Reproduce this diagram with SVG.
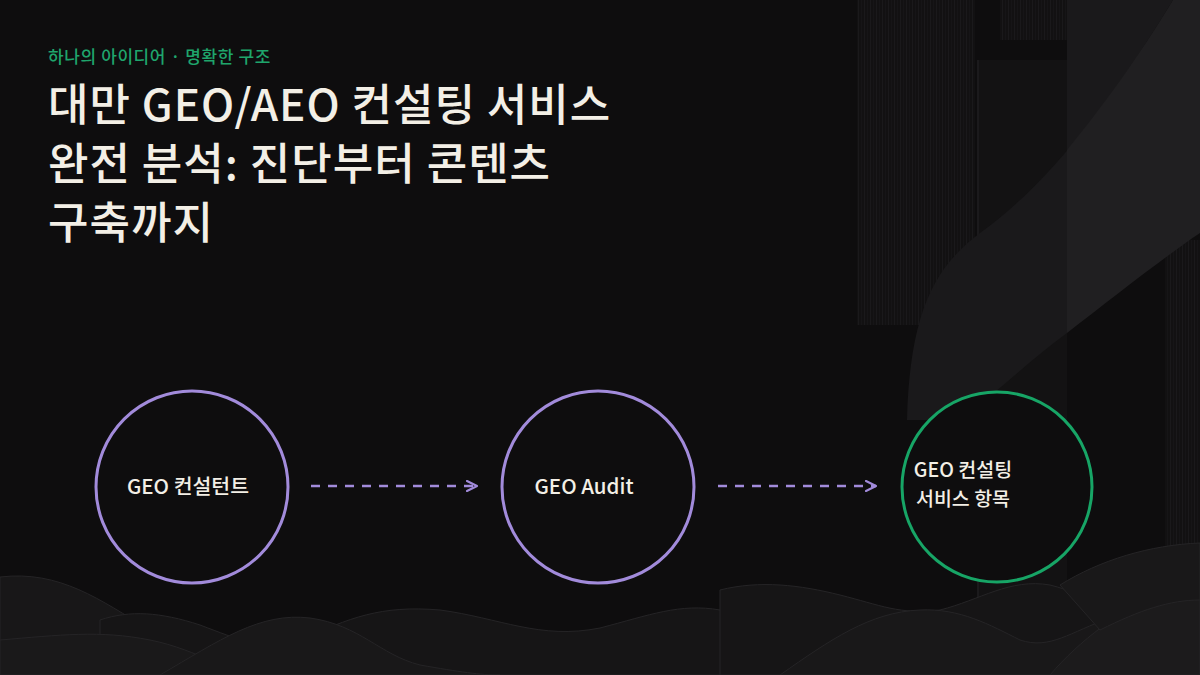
<svg xmlns="http://www.w3.org/2000/svg" width="1200" height="675" viewBox="0 0 1200 675">
<defs>
<style>
.title{font-family:"Noto Sans CJK KR","Noto Sans",sans-serif;font-weight:500;font-size:44px;letter-spacing:1px;fill:#f3efe6}
.kicker{font-family:"Noto Sans CJK KR","Noto Sans",sans-serif;font-weight:500;font-size:17px;fill:#1fa56c;letter-spacing:0.6px}
.lbl{font-family:"Noto Sans CJK KR","Noto Sans",sans-serif;font-weight:500;font-size:20.5px;fill:#f3efe6}
.lbl2{font-family:"Noto Sans CJK KR","Noto Sans",sans-serif;font-weight:500;font-size:19.5px;fill:#f3efe6}
.ring{fill:#0e0d0e;stroke-width:3}
.p{stroke:#a28bdb}
.g{stroke:#17a566}
.edge{stroke:#a28bdb;stroke-width:2.5;stroke-dasharray:9 8;fill:none}
.hill{stroke:#252426;stroke-width:1}
</style>
<marker id="ah" viewBox="0 0 12 12" refX="11" refY="6" markerWidth="12" markerHeight="12" markerUnits="userSpaceOnUse" orient="auto">
<path d="M1 1 L11 6 L1 11" fill="none" stroke="#a28bdb" stroke-width="2.2" stroke-linecap="round" stroke-linejoin="round"/>
</marker>
<pattern id="stripes" width="6" height="10" patternUnits="userSpaceOnUse">
<rect width="6" height="10" fill="#121112"/>
<rect x="0" width="1" height="10" fill="#1a191b"/>
<rect x="3" width="1" height="10" fill="#161517"/>
</pattern>
</defs>
<rect width="1200" height="675" fill="#0e0d0e"/>
<g id="decor">
<rect x="857" y="0" width="118" height="325" fill="url(#stripes)"/>
<rect x="1000" y="0" width="67" height="40" fill="url(#stripes)"/>
<rect x="977" y="60" width="90" height="615" fill="#131213"/>
<rect x="977" y="60" width="2" height="615" fill="#1b1a1c"/>
<rect x="1165" y="240" width="35" height="435" fill="url(#stripes)"/>
<path d="M1173 0 C1100 120 1040 190 980 233 C930 270 910 320 907 420 L960 420 C1000 390 1030 360 1067 333 L1067 0 Z" fill="#1a191b"/>
<path d="M1200 0 L1173 0 C1140 55 1100 110 1067 150 L1067 333 C1110 300 1160 260 1200 233 Z" fill="#201f21"/>
<path class="hill" d="M0 577 C60 570 100 600 150 630 C200 660 250 660 300 645 L300 675 L0 675 Z" fill="#181718"/>
<path class="hill" d="M100 620 C130 610 160 612 200 625 C240 640 260 650 300 640 C350 618 380 605 440 610 C500 618 540 640 600 628 C650 615 680 603 720 610 C760 618 790 630 820 620 L820 675 L100 675 Z" fill="#161516"/>
<path class="hill" d="M0 640 C60 635 100 630 150 640 C200 650 230 675 260 675 L0 675 Z" fill="#1a191a"/>
<path class="hill" d="M160 675 C220 640 260 612 310 618 C360 625 380 655 420 665 C460 672 480 675 500 675 Z" fill="#191819"/>
<path class="hill" d="M720 590 C760 580 800 585 840 595 C880 605 900 615 940 610 C980 600 1010 578 1050 585 C1090 595 1110 615 1150 610 C1170 605 1190 590 1200 585 L1200 675 L720 675 Z" fill="#161516"/>
<path class="hill" d="M780 675 C830 640 870 612 920 610 C960 608 990 625 1020 640 C1050 650 1070 632 1110 618 C1150 605 1180 612 1200 620 L1200 675 Z" fill="#191819"/>
<path class="hill" d="M1050 675 C1080 640 1120 610 1160 595 C1180 588 1190 585 1200 585 L1200 675 Z" fill="#1c1b1c"/>
<path class="hill" d="M1060 585 C1100 560 1150 545 1200 543 L1200 600 C1170 600 1140 610 1100 630 Z" fill="#191819"/>
</g>
<g id="header">
<text class="kicker" x="48" y="63">하나의 아이디어 · 명확한 구조</text>
<text class="title" x="48" y="121">대만 GEO/AEO 컨설팅 서비스</text>
<text class="title" x="48" y="180">완전 분석: 진단부터 콘텐츠</text>
<text class="title" x="48" y="239">구축까지</text>
</g>
<g id="connectors">
<line class="edge" x1="311" y1="486" x2="477" y2="486" marker-end="url(#ah)"/>
<line class="edge" x1="718" y1="486" x2="876" y2="486" marker-end="url(#ah)"/>
</g>
<g id="node-consultant">
<circle class="ring p" cx="192" cy="487" r="96"/>
<text class="lbl" x="188" y="494" text-anchor="middle">GEO 컨설턴트</text>
</g>
<g id="node-audit">
<circle class="ring p" cx="598" cy="487" r="96"/>
<text class="lbl" x="584" y="494" text-anchor="middle">GEO Audit</text>
</g>
<g id="node-services">
<circle class="ring g" cx="997" cy="487" r="95"/>
<text class="lbl2" x="963" y="477" text-anchor="middle">GEO 컨설팅</text>
<text class="lbl2" x="963" y="506" text-anchor="middle">서비스 항목</text>
</g>
</svg>
